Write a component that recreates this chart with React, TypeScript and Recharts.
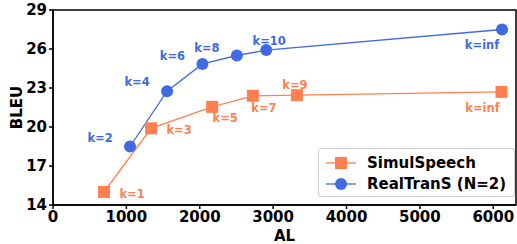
import { LineChart, Line, XAxis, YAxis, LabelList, ReferenceArea } from 'recharts'

const simulAL = [696, 1337, 2169, 2724, 3324, 6112]
const simulBLEU = [15.0, 19.9, 21.55, 22.4, 22.45, 22.7]
const simulK = ['k=1', 'k=3', 'k=5', 'k=7', 'k=9', 'k=inf']

const realAL = [1050, 1555, 2037, 2506, 2906, 6120]
const realBLEU = [18.5, 22.75, 24.85, 25.5, 25.92, 27.5]
const realK = ['k=2', 'k=4', 'k=6', 'k=8', 'k=10', 'k=inf']

const xTicks = [0, 1000, 2000, 3000, 4000, 5000, 6000]
const yTicks = [14, 17, 20, 23, 26, 29]

const ORANGE = '#FF7F50'
const BLUE = '#4169E1'
const FONT = '"DejaVu Sans", sans-serif'

// label offsets (text centre relative to the marker)
const simulOffsets = [[28, 2], [28, 2], [13, 11], [11, 12], [-2, -10], [-19, 16]]
const realOffsets = [[-30, -9], [-30, -9], [-30, -8], [-30, -8], [3, -9], [-20, 15]]

const simulData = simulAL.map((al, i) => ({ al, bleu: simulBLEU[i], k: simulK[i] }))
const realData = realAL.map((al, i) => ({ al, bleu: realBLEU[i], k: realK[i] }))

const makeLabel = (offsets: number[][], color: string) => (props: any) => {
  const { x, y, value, index } = props
  const [dx, dy] = offsets[index] || [0, 0]
  return (
    <text
      x={x + dx}
      y={y + dy}
      textAnchor="middle"
      dominantBaseline="central"
      fill={color}
      fontSize={11.5}
      fontWeight="bold"
      fontFamily={FONT}
    >
      {value}
    </text>
  )
}

const SquareDot = (props: any) => {
  const { cx, cy, index } = props
  return <rect key={`sq-${index}`} x={cx - 6} y={cy - 6} width={12} height={12} fill={ORANGE} />
}

const CircleDot = (props: any) => {
  const { cx, cy, index } = props
  return <circle key={`ci-${index}`} cx={cx} cy={cy} r={6} fill={BLUE} />
}

function LegendBox() {
  return (
    <div
      style={{
        position: 'absolute',
        left: 318,
        top: 148,
        width: 197,
        height: 49,
        border: '1px solid #ccc',
        borderRadius: 3,
        background: 'rgba(255,255,255,0.9)',
        fontFamily: FONT,
        fontWeight: 'bold',
        fontSize: 15,
        boxSizing: 'border-box',
      }}
    >
      <svg width={197} height={49} style={{ position: 'absolute', left: 0, top: 0 }}>
        <line x1={7} x2={37} y1={14} y2={14} stroke={ORANGE} strokeWidth={1.3} />
        <rect x={16} y={8} width={12} height={12} fill={ORANGE} />
        <line x1={7} x2={37} y1={35} y2={35} stroke={BLUE} strokeWidth={1.3} />
        <circle cx={22} cy={35} r={6} fill={BLUE} />
        <text x={48} y={14} dominantBaseline="central" fill="#000">SimulSpeech</text>
        <text x={48} y={35} dominantBaseline="central" fill="#000">RealTranS (N=2)</text>
      </svg>
    </div>
  )
}

export default function App() {
  return (
    <div style={{ position: 'absolute', left: 0, top: 0, width: 517, height: 244, background: '#fff' }}>
      <LineChart
        width={517}
        height={244}
        margin={{ top: 10, right: 1, left: 0, bottom: 0 }}
      >
        <XAxis
          dataKey="al"
          type="number"
          domain={[0, 6310]}
          ticks={xTicks}
          allowDuplicatedCategory={false}
          height={39}
          stroke="#000"
          strokeWidth={1.5}
          tickSize={4}
          tick={{ fill: '#000', fontSize: 15, fontWeight: 'bold', fontFamily: FONT }}
          label={{ value: 'AL', position: 'insideBottom', offset: 3, fill: '#000', fontSize: 15, fontWeight: 'bold', fontFamily: FONT }}
        />
        <YAxis
          type="number"
          domain={[14, 29]}
          ticks={yTicks}
          width={53}
          stroke="#000"
          strokeWidth={1.5}
          tickSize={4}
          tick={{ fill: '#000', fontSize: 15, fontWeight: 'bold', fontFamily: FONT }}
          label={{ value: 'BLEU', angle: -90, position: 'insideLeft', offset: 17, fill: '#000', fontSize: 15, fontWeight: 'bold', fontFamily: FONT, style: { textAnchor: 'middle' } }}
        />
        <ReferenceArea x1={0} x2={6310} y1={14} y2={29} fill="none" stroke="#000" strokeWidth={1.5} ifOverflow="visible" />
        <Line
          data={simulData}
          dataKey="bleu"
          stroke={ORANGE}
          strokeWidth={1.3}
          dot={SquareDot}
          activeDot={false}
          isAnimationActive={false}
        >
          <LabelList dataKey="k" content={makeLabel(simulOffsets, ORANGE)} />
        </Line>
        <Line
          data={realData}
          dataKey="bleu"
          stroke={BLUE}
          strokeWidth={1.3}
          dot={CircleDot}
          activeDot={false}
          isAnimationActive={false}
        >
          <LabelList dataKey="k" content={makeLabel(realOffsets, BLUE)} />
        </Line>
      </LineChart>
      <LegendBox />
    </div>
  )
}
